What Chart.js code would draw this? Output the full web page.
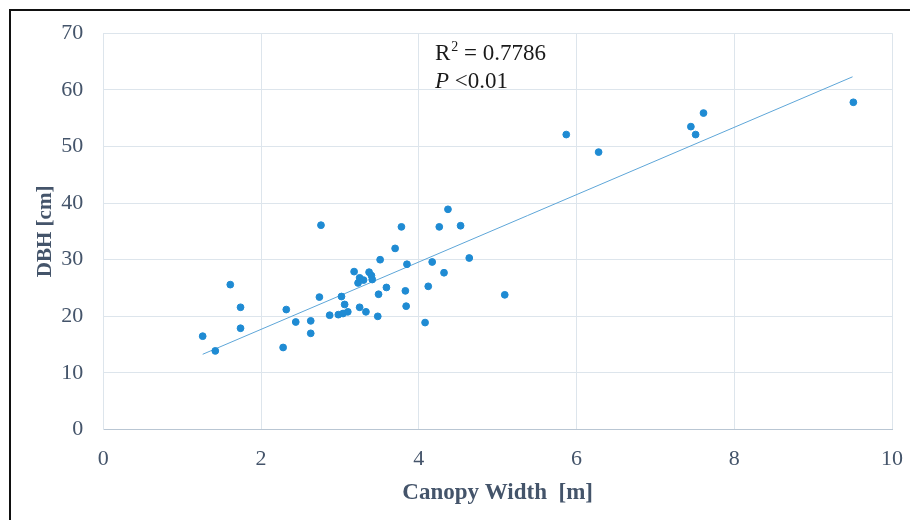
<!DOCTYPE html>
<html>
<head>
<meta charset="utf-8">
<script src="https://cdn.jsdelivr.net/npm/chart.js"></script>
<style>
  html, body { margin: 0; padding: 0; background: #fff; overflow: hidden; }
  #wrap { position: relative; width: 910px; height: 520px; }
  #frame { position: absolute; left: 9px; top: 9px; width: 1000px; height: 600px; border: 2px solid #111; box-sizing: border-box; pointer-events: none; }
  canvas { position: absolute; left: 0; top: 0; }
</style>
</head>
<body>
<div id="wrap">
  <canvas id="chart" width="910" height="520"></canvas>
  <div id="frame"></div>
</div>
<script>
// canopy width (m) and DBH (cm)
const canopyWidth = [1.26, 1.42, 1.61, 1.74, 1.74, 2.28, 2.32, 2.44, 2.63, 2.63,
  2.74, 2.76, 2.87, 2.98, 3.02, 3.04, 3.06, 3.10, 3.18, 3.23,
  3.25, 3.25, 3.30, 3.33, 3.37, 3.40, 3.41, 3.48, 3.49, 3.51,
  3.59, 3.70, 3.78, 3.83, 3.84, 3.85, 4.08, 4.12, 4.17, 4.26,
  4.32, 4.37, 4.53, 4.64, 5.09, 5.87, 6.28, 7.45, 7.51, 7.61, 9.51];
const dbh = [16.5, 13.9, 25.6, 21.6, 17.9, 14.5, 21.2, 19.0, 19.2, 17.0,
  23.4, 36.1, 20.2, 20.3, 23.5, 20.5, 22.1, 20.8, 27.9, 25.9,
  26.8, 21.6, 26.4, 20.8, 27.8, 27.2, 26.5, 20.0, 23.9, 30.0,
  25.1, 32.0, 35.8, 24.5, 21.8, 29.2, 18.9, 25.3, 29.6, 35.8,
  27.7, 38.9, 36.0, 30.3, 23.8, 52.1, 49.0, 53.5, 52.1, 55.9, 57.8];

// linear trend line end points
const trendX = [1.26, 9.5];
const trendY = [13.3, 62.3];

const xTicks = [0, 2, 4, 6, 8, 10];
const yTicks = [0, 10, 20, 30, 40, 50, 60, 70];

const points = canopyWidth.map((x, i) => ({ x: x, y: dbh[i] }));
const trend = trendX.map((x, i) => ({ x: x, y: trendY[i] }));

const axisColor = '#44546a';
const gridColor = '#dde5ec';
const serif = '"Liberation Serif", "Times New Roman", serif';

// R² / P annotation
const statsLabel = {
  id: 'statsLabel',
  afterDraw(chart) {
    const ctx = chart.ctx;
    ctx.save();
    ctx.fillStyle = '#1a1a1a';
    ctx.textBaseline = 'alphabetic';
    ctx.textAlign = 'left';
    let x = 435;
    ctx.font = '23px ' + serif;
    ctx.fillText('R', x, 60);
    x += ctx.measureText('R').width;
    ctx.font = '14px ' + serif;
    ctx.fillText('2', x + 1, 51);
    x += ctx.measureText('2').width + 1;
    ctx.font = '23px ' + serif;
    ctx.fillText(' = 0.7786', x, 60);

    ctx.font = 'italic 23px ' + serif;
    ctx.fillText('P', 435, 88);
    const pw = ctx.measureText('P').width;
    ctx.font = '23px ' + serif;
    ctx.fillText(' <0.01', 435 + pw, 88);
    ctx.restore();
  }
};

new Chart(document.getElementById('chart'), {
  type: 'scatter',
  data: {
    datasets: [{
      label: 'DBH',
      data: points,
      backgroundColor: '#1f8bd3',
      borderColor: '#1f8bd3',
      pointRadius: 3.4,
      pointHoverRadius: 3.4,
      order: 1
    }, {
      label: 'Linear',
      type: 'line',
      data: trend,
      borderColor: '#5ea6d8',
      borderWidth: 1,
      pointRadius: 0,
      fill: false,
      order: 2
    }]
  },
  options: {
    responsive: false,
    animation: false,
    devicePixelRatio: 1,
    layout: { padding: { top: 33, right: 18, left: 0, bottom: 0 } },
    plugins: {
      legend: { display: false },
      tooltip: { enabled: false }
    },
    scales: {
      x: {
        type: 'linear',
        min: 0,
        max: 10,
        afterBuildTicks: scale => { scale.ticks = xTicks.map(v => ({ value: v })); },
        afterFit: scale => {
          scale.height = 90.4;
          scale.paddingLeft = 0;
          scale.paddingRight = 0;
        },
        grid: { color: gridColor, drawTicks: false },
        border: { color: '#b9c6d3', width: 1 },
        ticks: {
          color: axisColor,
          padding: 16,
          maxRotation: 0,
          font: { family: serif, size: 22 }
        },
        title: {
          display: true,
          text: 'Canopy Width  [m]',
          color: axisColor,
          padding: { top: 0, bottom: 13 },
          font: { family: serif, size: 23, weight: 'bold' }
        }
      },
      y: {
        type: 'linear',
        min: 0,
        max: 70,
        afterBuildTicks: scale => { scale.ticks = yTicks.map(v => ({ value: v })); },
        afterFit: scale => { scale.width = 103.3; },
        grid: { color: gridColor, drawTicks: false },
        border: { color: gridColor, width: 1 },
        ticks: {
          color: axisColor,
          padding: 20,
          font: { family: serif, size: 22 }
        },
        title: {
          display: true,
          text: 'DBH [cm]',
          color: axisColor,
          padding: { top: 33, bottom: 0 },
          font: { family: serif, size: 21, weight: 'bold' }
        }
      }
    }
  },
  plugins: [statsLabel]
});
</script>
</body>
</html>
